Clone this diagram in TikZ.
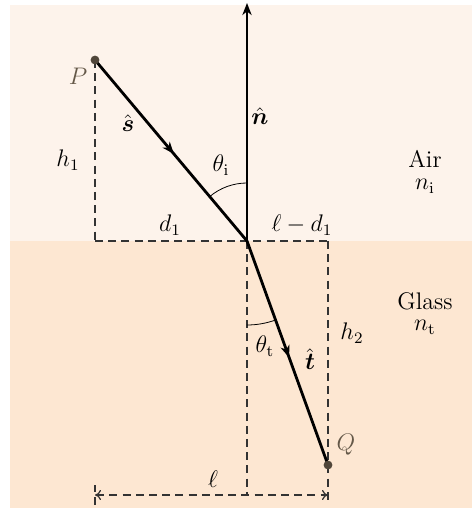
\documentclass[tikz,border=0pt]{standalone}
\usepackage{amsmath}
\usetikzlibrary{arrows.meta,decorations.markings,calc}
\definecolor{airbg}{RGB}{253,243,235}
\definecolor{glassbg}{RGB}{253,231,210}
\definecolor{ptlabel}{RGB}{100,88,72}
\tikzset{
  tip/.tip={Stealth[length=6pt,width=4.6pt,inset=1.8pt]},
  ray/.style={line width=1.4pt, line cap=round},
  midarrow/.style={postaction={decorate}, decoration={markings, mark=at position 0.52 with {\arrow{tip}}}},
  guide/.style={line width=0.6pt, dash pattern=on 4pt off 2.6pt, black!80},
  lbl/.style={inner sep=0pt, anchor=base, font=\large},
}
\begin{document}
\begin{tikzpicture}[x=0.5pt,y=0.5pt]
\useasboundingbox (0,0) rectangle (472,508);
\fill[glassbg] (10,0) rectangle (472,267);
\fill[airbg] (10,267) rectangle (472,503);
% points
\coordinate (O) at (247,267);
\coordinate (P) at (95,448);
\coordinate (Q) at (328,43);
\coordinate (N) at (247,505);
\coordinate (Pb) at (95,267);
\coordinate (Qt) at (328,267);
\coordinate (Qb) at (328,8);
\coordinate (Ob) at (247,13);
\coordinate (L1) at (95,13);
\coordinate (L2) at (328,13);
\coordinate (T1a) at (95,3);
\coordinate (T1b) at (95,23);
\coordinate (Ai) at ($(O)+(90:58)$);
\coordinate (At) at ($(O)+(-90:84)$);
% dashed guides
\draw[guide] (P) -- (Pb);
\draw[guide] (Pb) -- (Qt);
\draw[guide] (Qt) -- (Qb);
\draw[guide] (O) -- (Ob);
\draw[guide] (T1a) -- (T1b);
\draw[guide, {To[length=3pt,width=5pt]}-{To[length=3pt,width=5pt]}] (L1) -- (L2);
% angle arcs
\draw[line width=0.4pt] (Ai) arc[start angle=90, end angle=130, radius=29pt];
\draw[line width=0.4pt] (At) arc[start angle=-90, end angle=-70, radius=42pt];
% rays
\draw[ray, -tip] (O) -- (N);
\draw[ray, midarrow] (P) -- (O);
\draw[ray, midarrow] (O) -- (Q);
\fill[ptlabel!80!black] (P) circle (2.2pt);
\fill[ptlabel!80!black] (Q) circle (2.2pt);
% labels
\node[lbl, text=ptlabel] (lP) at (78,423) {$P$};
\node[lbl, text=ptlabel] (lQ) at (346,57) {$Q$};
\node[lbl] (lh1) at (68,341) {$h_1$};
\node[lbl] (ld1) at (170,276) {$d_1$};
\node[lbl] (lld) at (302,276) {$\ell - d_1$};
\node[lbl] (ls) at (128,376) {$\hat{\boldsymbol{s}}$};
\node[lbl] (ln) at (260,383) {$\hat{\boldsymbol{n}}$};
\node[lbl] (lti) at (221,336) {$\theta_{\mathrm{i}}$};
\node[lbl] (ltt) at (265,155) {$\theta_{\mathrm{t}}$};
\node[lbl] (lt) at (310,138) {$\hat{\boldsymbol{t}}$};
\node[lbl] (lh2) at (352,168) {$h_2$};
\node[lbl] (lair) at (425,340) {Air};
\node[lbl] (lni) at (425,318) {$n_{\mathrm{i}}$};
\node[lbl] (lglass) at (425,198) {Glass};
\node[lbl] (lnt) at (425,177) {$n_{\mathrm{t}}$};
\node[lbl] (ll) at (213,20) {$\ell$};
\end{tikzpicture}
\end{document}
